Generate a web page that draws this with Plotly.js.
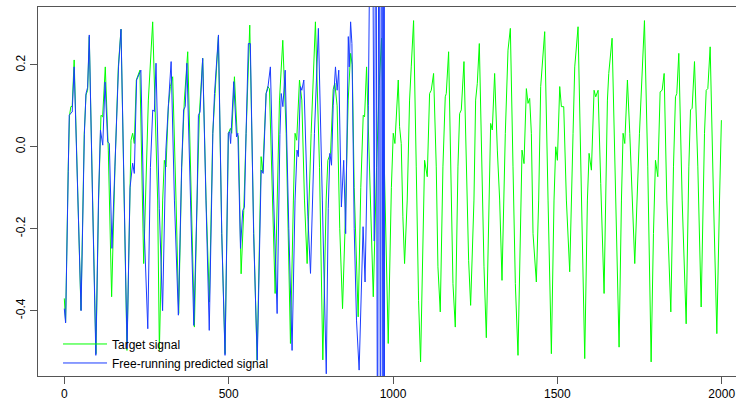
<!DOCTYPE html>
<html>
<head>
<meta charset="utf-8">
<script src="https://cdn.plot.ly/plotly-3.0.1.min.js"></script>
<style>
html,body{margin:0;padding:0;overflow:hidden;background:#fff;width:736px;height:400px;}
#chart{width:760px;height:420px;}
</style>
</head>
<body>
<div id="chart"></div>
<script>
// Target signal (green) at its turning points
var targetX = [0,4,12,16,20,24,30,38.5,50.7,60.8,65.9,71,76,86.2,96.3,104.4,111.6,116.6,124.7,133.9,144,154.2,164.3,172.5,182.6,190.7,202.9,208,213,219.1,230,241.5,255.7,268.9,284,289.2,299.3,304.4,309.5,316.6,322.7,329.8,339.9,348,357.2,365.3,375.5,385.6,395.8,403.9,411,421.1,431.3,441.4,451.6,458.7,468.8,479,489.1,499.3,505.4,509.4,517.6,525.7,529.7,537.9,546,553.1,564.2,576.4,586.6,598.8,603.8,614,619,624.1,634.3,641.4,654.6,664.7,675,688,697,702,707,715.5,722.6,730.7,738.8,751,764,776.4,786.5,796.7,801.8,810,818,823,830,838,846.5,853.6,863.7,871,876,882,894,902,909.4,913.5,919.6,930,940,950,958,965.2,975,985.5,995,1000.8,1005.8,1016,1020,1025,1030.1,1035.2,1043.3,1050.4,1055.5,1062.6,1070.7,1077.8,1083.9,1091,1096.1,1104.2,1111.3,1116.4,1123.5,1131.6,1136.7,1143.8,1151.9,1159,1162.1,1169.2,1177.3,1182.4,1189.5,1197.6,1202.7,1207.8,1215.9,1223,1230.1,1236.2,1246.3,1251.4,1256.5,1262.6,1270.7,1276.8,1283.9,1291,1297.1,1302.1,1309.2,1317.4,1324.5,1331.6,1341.7,1349.9,1357,1365.1,1372.2,1380.3,1388.4,1392.5,1398.6,1405.7,1410.8,1415.8,1420.9,1426,1436.1,1443.2,1449.3,1453.4,1461.5,1471.7,1481.8,1489.9,1495,1500.1,1507.2,1512.3,1519.4,1527.5,1537.6,1547.8,1552.9,1563,1573.2,1583.3,1591.4,1596.5,1603.6,1611.7,1616.8,1623.9,1632,1642.2,1652.3,1656.4,1666.5,1676.7,1687.8,1695,1700,1705.1,1713.2,1720.3,1727.4,1735.5,1749.8,1765,1775.1,1785.3,1792.4,1798.5,1805.6,1812.7,1818.8,1824.9,1833,1845.2,1853.3,1859.4,1863.4,1869.5,1879.7,1891.9,1900,1905.1,1910.1,1917.2,1927.4,1937.5,1947.7,1952.8,1957.8,1964.9,1975.1,1985.2,1993.4,1999];
var targetY = [-0.37,-0.427,-0.049,0.077,0.098,0.099,0.212,-0.049,-0.399,0.033,0.126,0.138,0.269,-0.13,-0.505,-0.13,0.077,0.073,0.195,-0.008,-0.366,-0.049,0.195,0.287,-0.13,-0.497,0.016,0.033,0.008,0.163,0.187,-0.285,0.114,0.305,-0.13,-0.497,-0.13,-0.033,-0.049,0.098,0.147,0.171,-0.13,-0.407,-0.049,0.114,0.232,-0.13,-0.44,-0.13,0.081,0.216,-0.13,-0.379,0.033,0.13,0.269,-0.212,-0.505,0.033,0.045,0.033,0.171,0.033,0.024,-0.31,-0.155,0.033,0.297,-0.212,-0.521,-0.024,-0.061,0.13,0.147,0.142,-0.13,-0.358,0.114,0.26,0.033,-0.48,-0.13,0.033,0.016,0.163,0.114,-0.13,-0.285,0.033,0.305,-0.05,-0.52,-0.13,-0.033,-0.016,0.14,0.155,0.1,-0.2,-0.395,-0.212,0.114,0.228,0.2,-0.1,-0.415,-0.1,0.077,0.073,0.195,-0.1,-0.366,-0.05,0.15,0.265,-0.13,-0.48,-0.1,0.033,0.008,0.163,0.049,0.008,-0.171,-0.285,-0.13,0.114,0.195,0.308,-0.049,-0.375,-0.525,-0.212,-0.033,-0.073,0.13,0.138,0.179,-0.049,-0.293,-0.403,-0.049,0.122,0.13,0.232,-0.13,-0.334,-0.44,-0.049,0.081,0.09,0.208,-0.049,-0.277,-0.387,-0.13,0.114,0.155,0.252,-0.049,-0.293,-0.466,-0.13,0.057,0.041,0.179,-0.008,-0.13,-0.326,0.033,0.236,0.289,-0.049,-0.334,-0.509,-0.13,-0.008,-0.041,0.142,0.106,0.118,0.033,-0.212,-0.33,-0.13,0.147,0.195,0.281,-0.13,-0.505,-0.13,0.0,-0.033,0.147,0.098,0.098,-0.13,-0.305,0.033,0.195,0.293,-0.13,-0.517,-0.13,-0.016,-0.057,0.138,0.122,0.138,-0.09,-0.358,0.114,0.179,0.265,-0.13,-0.489,-0.13,0.033,0.008,0.163,0.033,-0.13,-0.285,0.033,0.308,-0.049,-0.525,-0.212,-0.033,-0.073,0.134,0.138,0.179,-0.13,-0.403,-0.049,0.122,0.13,0.228,-0.13,-0.432,-0.049,0.09,0.094,0.208,-0.049,-0.391,0.033,0.138,0.142,0.244,-0.13,-0.456,-0.13,0.065];

// Free-running prediction (blue); it diverges near step 930
var predX = [0,4,12,15,20,24,30,38,51,61,66,71,76,86,96,104,110,117,124,132,137,145,157,165,172.5,182,191,200,208,213,220,233,243,254,262,269,274,279,289,299,309,317,325,335,347,357,363,368,373,384,394,404,408,413,421,431,441,452,457,469,479,489,499,503,506,515.5,524,528,536,543,548,553,560,566,576,587,599,605,614,619,627,637,647.5,656,660,665,672,683,693,702,708,712,718.5,722.6,728.7,741,749,761,773,785,797,803,808,813,818,825,830,835,843,850,856,864,867,871,875,882,889,897,903,909,915,925,934,939,943,948,953,958,962,966,970,973,975];
var predY = [-0.395,-0.43,-0.06,0.077,0.082,0.085,0.195,-0.05,-0.4,0.03,0.13,0.145,0.273,-0.13,-0.509,-0.13,0.041,0.004,0.158,0.012,0.008,-0.248,0.033,0.195,0.287,-0.13,-0.493,-0.1,-0.04,-0.065,0.163,0.187,-0.2,-0.444,-0.05,0.09,0.086,0.204,-0.15,-0.4,-0.008,0.106,0.208,-0.13,-0.411,-0.05,0.09,0.098,0.204,-0.13,-0.436,-0.13,0.077,0.085,0.216,-0.13,-0.448,0.033,0.13,0.273,-0.212,-0.509,0.033,0.037,0.008,0.159,0.024,0.033,-0.248,-0.155,-0.148,0.033,0.252,0.252,-0.212,-0.521,-0.057,-0.065,0.13,0.142,0.195,-0.13,-0.407,0.03,0.13,0.098,0.187,-0.2,-0.497,-0.13,-0.008,-0.024,0.147,0.138,0.163,-0.171,-0.309,0.033,0.289,-0.13,-0.554,-0.15,-0.016,-0.045,0.1,0.195,0.138,0.187,-0.147,-0.033,-0.212,0.269,0.195,0.305,0.252,-0.2,-0.423,-0.545,-0.35,-0.195,-0.33,0.1,0.9,0.45,-0.23,0.8,-0.9,1.2,-1.1,1.5,-1.5,2.5,-3];

var xTickVals = [0,500,1000,1500,2000];
var xTickText = ['0','500','1000','1500','2000'];
var yTickVals = [-0.4,-0.2,0,0.2];
var yTickText = ['-0.4','-0.2','0.0','0.2'];
var seriesNames = ['Target signal','Free-running predicted signal'];

var axisFont = {family:'Liberation Sans, Arial, sans-serif', size:12, color:'#000'};

var traces = [
  {x:targetX, y:targetY, type:'scatter', mode:'lines', name:seriesNames[0],
   line:{color:'#00ff00', width:1}, hoverinfo:'skip'},
  {x:predX, y:predY, type:'scatter', mode:'lines', name:seriesNames[1],
   line:{color:'#1a3cff', width:1}, hoverinfo:'skip'}
];

var layout = {
  width:760, height:420,
  margin:{l:38, r:12, t:7, b:44},
  paper_bgcolor:'#fff', plot_bgcolor:'#fff',
  showlegend:true,
  legend:{x:0.0282, y:-0.004, xanchor:'left', yanchor:'bottom', bgcolor:'rgba(0,0,0,0)',
          borderwidth:0, font:axisFont, itemwidth:44, tracegroupgap:0},
  xaxis:{range:[-80,2080], showgrid:false, zeroline:false, showline:true, mirror:true,
         linecolor:'#555', linewidth:1, ticks:'outside', ticklen:7, tickcolor:'#555',
         tickvals:xTickVals, ticktext:xTickText, tickfont:axisFont},
  yaxis:{range:[-0.5594,0.3412], showgrid:false, zeroline:false, showline:true, mirror:true,
         linecolor:'#555', linewidth:1, ticks:'outside', ticklen:7, tickcolor:'#555',
         tickvals:yTickVals, ticktext:yTickText, tickangle:-90, tickfont:axisFont}
};

Plotly.newPlot('chart', traces, layout, {staticPlot:true, displayModeBar:false});
</script>
</body>
</html>
